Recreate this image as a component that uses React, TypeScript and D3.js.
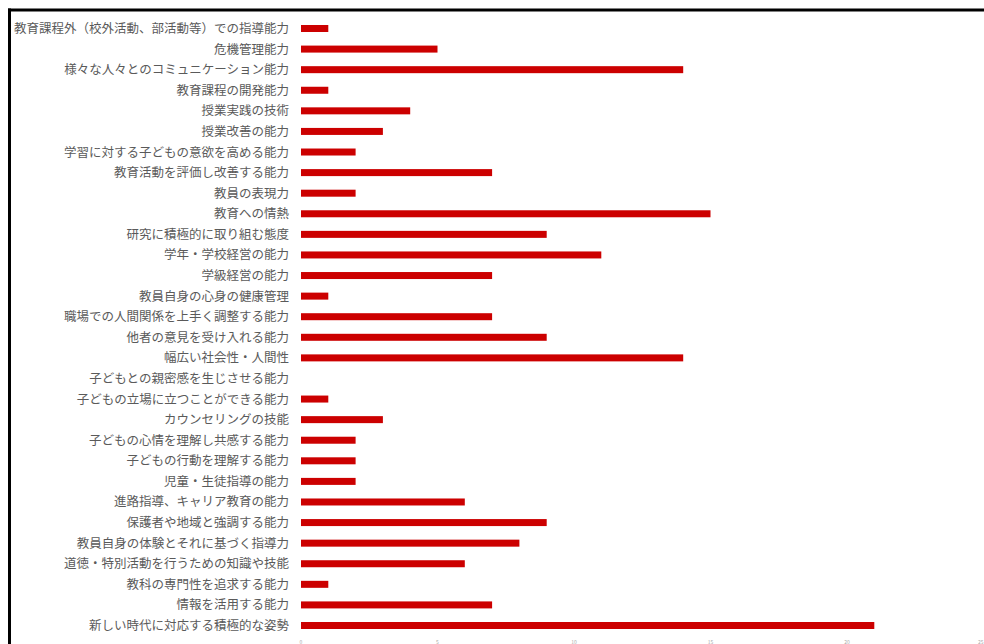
import React from "react";
import * as d3 from "d3";

const categories: string[] = [
  "教育課程外（校外活動、部活動等）での指導能力",
  "危機管理能力",
  "様々な人々とのコミュニケーション能力",
  "教育課程の開発能力",
  "授業実践の技術",
  "授業改善の能力",
  "学習に対する子どもの意欲を高める能力",
  "教育活動を評価し改善する能力",
  "教員の表現力",
  "教育への情熱",
  "研究に積極的に取り組む態度",
  "学年・学校経営の能力",
  "学級経営の能力",
  "教員自身の心身の健康管理",
  "職場での人間関係を上手く調整する能力",
  "他者の意見を受け入れる能力",
  "幅広い社会性・人間性",
  "子どもとの親密感を生じさせる能力",
  "子どもの立場に立つことができる能力",
  "カウンセリングの技能",
  "子どもの心情を理解し共感する能力",
  "子どもの行動を理解する能力",
  "児童・生徒指導の能力",
  "進路指導、キャリア教育の能力",
  "保護者や地域と強調する能力",
  "教員自身の体験とそれに基づく指導力",
  "道徳・特別活動を行うための知識や技能",
  "教科の専門性を追求する能力",
  "情報を活用する能力",
  "新しい時代に対応する積極的な姿勢",
];

const values: number[] = [
  1, 5, 14, 1, 4, 3, 2, 7, 2, 15, 9, 11, 7, 1, 7, 9, 14, 0, 1, 3, 2, 2, 2, 6, 9, 8, 6, 1, 7, 21,
];

const tickValues: number[] = [0, 5, 10, 15, 20, 25];

const W = 984;
const H = 644;

export default function App() {
  const x = d3.scaleLinear().domain([0, 25]).range([301, 983.5]);
  const y = d3
    .scalePoint<string>()
    .domain(categories)
    .range([28.5, 625.5]);
  const barH = 7;

  return (
    <svg
      width={W}
      height={H}
      style={{ position: "absolute", left: 0, top: 0, background: "#fff" }}
      fontFamily="'Noto Sans CJK JP', 'Noto Sans', sans-serif"
    >
      <rect x={0} y={0} width={W} height={H} fill="#fff" />
      {categories.map((c, i) => (
        <g key={c}>
          <text
            x={289}
            y={y(c)!}
            dy="0.36em"
            textAnchor="end"
            fontSize={12.5}
            fill="#5a5a5a"
          >
            {c}
          </text>
          {values[i] > 0 && (
            <rect
              x={x(0)}
              y={y(c)! - barH / 2}
              width={x(values[i]) - x(0)}
              height={barH}
              fill="#cc0000"
            />
          )}
        </g>
      ))}
      {tickValues.map((t, i) => (
        <text
          key={t}
          x={x(t)}
          y={643.5}
          textAnchor={i === tickValues.length - 1 ? "end" : "middle"}
          fontSize={5}
          fill="#aaa"
        >
          {t}
        </text>
      ))}
      <line x1={8} x2={W} y1={10} y2={10} stroke="#000" strokeWidth={3} />
      <line x1={9.5} x2={9.5} y1={8.5} y2={H} stroke="#000" strokeWidth={3} />
    </svg>
  );
}
